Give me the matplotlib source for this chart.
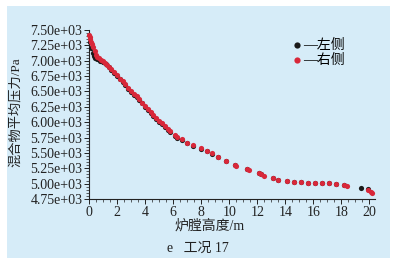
import matplotlib
matplotlib.use("Agg")
import matplotlib.pyplot as plt
from matplotlib.patches import Rectangle
from matplotlib.ticker import AutoMinorLocator, FuncFormatter

# ---- data ----
x_right = [0.0, 0.05, 0.1, 0.15, 0.2, 0.3, 0.4, 0.5, 0.6, 0.7, 0.85, 1.0, 1.15, 1.3,
           1.45, 1.6, 1.8, 2.0, 2.2, 2.4, 2.6, 2.8, 3.0, 3.2, 3.4, 3.6, 3.8, 4.0,
           4.2, 4.4, 4.6, 4.8, 5.0, 5.2, 5.4, 5.6, 5.8, 6.1, 6.3, 6.6, 7.0, 7.4,
           8.0, 8.4, 8.8, 9.2, 9.8, 10.4, 10.5, 11.3, 11.4, 12.1, 12.3, 12.5,
           13.1, 13.5, 14.1, 14.6, 15.1, 15.6, 16.1, 16.6, 17.1, 17.6, 18.2,
           18.4, 19.9, 20.1, 20.2]
y_right = [7420, 7390, 7350, 7310, 7280, 7220, 7160, 7100, 7060, 7040, 7010, 6990,
           6965, 6935, 6900, 6860, 6810, 6760, 6710, 6665, 6615, 6560, 6510, 6465,
           6420, 6370, 6320, 6260, 6215, 6165, 6115, 6070, 6020, 5980, 5935, 5890,
           5850, 5795, 5760, 5720, 5665, 5625, 5575, 5530, 5495, 5440, 5375, 5300,
           5290, 5235, 5225, 5170, 5160, 5130, 5090, 5060, 5035, 5027, 5022, 5012,
           5010, 5005, 5005, 4990, 4975, 4968, 4900, 4870, 4855]
x_left = [0.05, 0.15, 0.25, 0.35, 0.45, 0.6, 0.8, 1.0, 1.2, 1.4, 1.6, 1.8, 2.0,
          2.2, 2.4, 2.6, 2.8, 3.0, 3.2, 3.4, 3.6, 3.8, 4.0, 4.2, 4.4, 4.6, 4.8,
          5.0, 5.2, 5.4, 5.6, 5.8, 6.1, 6.3, 6.6, 7.0, 7.4, 8.0, 8.4, 8.8, 9.2,
          9.8, 10.4, 11.3, 12.1, 12.3, 13.1, 13.5, 14.1, 14.6, 15.1, 15.6, 16.1,
          16.6, 17.1, 17.6, 18.2, 19.4, 19.9]
y_left = [7310, 7200, 7130, 7080, 7050, 7020, 7000, 6975, 6945, 6905, 6850, 6800,
          6745, 6695, 6650, 6600, 6545, 6495, 6450, 6405, 6355, 6305, 6245, 6200,
          6150, 6100, 6055, 6005, 5965, 5920, 5875, 5835, 5780, 5750, 5710, 5655,
          5615, 5565, 5525, 5488, 5435, 5370, 5305, 5238, 5175, 5162, 5092, 5065,
          5038, 5028, 5020, 5012, 5008, 5003, 5003, 4988, 4980, 4934, 4905]

legend_labels = ["—左侧", "—右侧"]
x_label = "炉膛高度/m"
y_label = "混合物平均压力/Pa"
caption = "e   工况 17"

FONT = ["Liberation Serif", "Noto Sans CJK SC"]
plt.rcParams["font.family"] = FONT

W, H = 397, 259
fig = plt.figure(figsize=(W / 100, H / 100), dpi=100, facecolor="white")
bg = "#d6ecf8"
fig.patches.append(Rectangle((7 / W, 1 / H), (390 - 7) / W, (252) / H,
                             transform=fig.transFigure, facecolor=bg,
                             edgecolor="none", zorder=-10))

ax = fig.add_axes([89 / W, 60 / H, (375 - 89) / W, (229 - 60) / H])
ax.set_zorder(5)
ax.set_facecolor("none")

ax.scatter(x_left, y_left, s=14, color="#1a1a1a", label=legend_labels[0],
           zorder=3, linewidths=0, clip_on=False)
ax.scatter(x_right, y_right, s=14, color="#d8283a", label=legend_labels[1],
           zorder=4, linewidths=0, clip_on=False)

ax.set_xlim(0, 20.4)
ax.set_ylim(4750, 7500)
ax.set_xticks(range(0, 21, 2))
ax.set_yticks([4750 + 250 * i for i in range(12)])
ax.yaxis.set_major_formatter(FuncFormatter(lambda v, p: "%.2fe+03" % (v / 1000)))
ax.xaxis.set_minor_locator(AutoMinorLocator(4))
ax.yaxis.set_minor_locator(AutoMinorLocator(5))

for s in ["top", "right"]:
    ax.spines[s].set_visible(False)
for s in ["left", "bottom"]:
    ax.spines[s].set_linewidth(0.8)
    ax.spines[s].set_color("#222222")

ax.tick_params(axis="both", which="major", length=3.5, width=0.7,
               labelsize=10, colors="#222222", pad=1.2)
ax.tick_params(axis="both", which="minor", length=2, width=0.5, colors="#222222")

fig.text(15 / W, 1 - 112 / H, y_label, rotation=90, ha="center", va="center",
         fontsize=9.5, color="#222222")
fig.text(210 / W, 1 - 226 / H, x_label, ha="center", va="center",
         fontsize=10, color="#222222")
fig.text(198 / W, 1 - 248 / H, caption, ha="center", va="center",
         fontsize=10, color="#222222")

leg = ax.legend(loc="upper left", bbox_to_anchor=(197 / 286, 1 - 2 / 169),
                frameon=False, fontsize=10, handlelength=0.6, handletextpad=0.1,
                labelspacing=0.1, borderpad=0, markerscale=1.2)

fig.savefig("out.png", dpi=100, facecolor="white")
